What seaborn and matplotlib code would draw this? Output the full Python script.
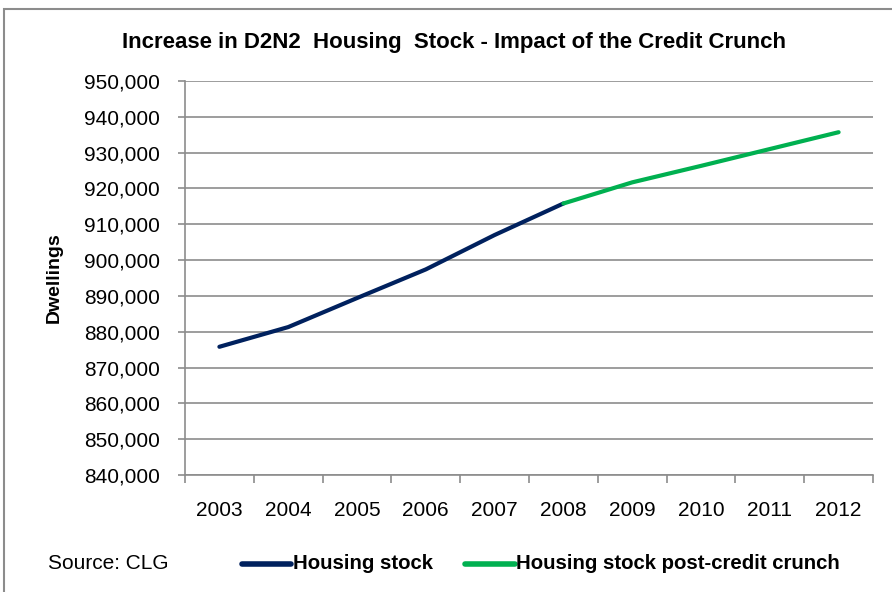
import pandas as pd
import matplotlib.pyplot as plt
import seaborn as sb
from matplotlib.ticker import FuncFormatter, MultipleLocator, FixedLocator
from matplotlib.lines import Line2D
from matplotlib.patches import Rectangle

# data
years_stock = [2003, 2004, 2005, 2006, 2007, 2008]
housing_stock = [875800, 881300, 889400, 897400, 907000, 915800]
years_post = [2008, 2009, 2010, 2011, 2012]
housing_post = [915800, 921700, 926300, 931000, 935700]

navy = "#00215E"
green = "#00B050"
grey = "#8c8c8c"

df = pd.concat([
    pd.DataFrame({"Year": years_stock, "Dwellings": housing_stock, "Series": "Housing stock"}),
    pd.DataFrame({"Year": years_post, "Dwellings": housing_post, "Series": "Housing stock post-credit crunch"}),
])

sb.set_style("white")
plt.rcParams['font.family'] = ['Liberation Sans', 'DejaVu Sans']
plt.rcParams['text.color'] = 'black'
plt.rcParams['xtick.color'] = grey
plt.rcParams['ytick.color'] = grey
plt.rcParams['xtick.labelcolor'] = 'black'
plt.rcParams['ytick.labelcolor'] = 'black'
plt.rcParams['axes.labelcolor'] = 'black'

fig = plt.figure(figsize=(8.92, 5.92), dpi=100)
ax = fig.add_axes([0.2074, 0.1976, 0.7713, 0.6656])

sb.lineplot(data=df, x="Year", y="Dwellings", hue="Series",
            palette={"Housing stock": navy, "Housing stock post-credit crunch": green},
            linewidth=3, legend=False, ax=ax)

ax.set_ylim(840000, 950000)
ax.set_xlim(2002.5, 2012.5)
ax.yaxis.set_major_locator(MultipleLocator(10000))
ax.yaxis.set_major_formatter(FuncFormatter(lambda v, p: f"{int(v):,}"))
ax.grid(axis="y", color=grey, linewidth=1.2)
ax.set_axisbelow(True)

years_all = list(range(2003, 2013))
ax.xaxis.set_major_locator(FixedLocator(years_all))
ax.set_xticklabels([str(y) for y in years_all])
ax.xaxis.set_minor_locator(FixedLocator([y + 0.5 for y in range(2002, 2013)]))
ax.tick_params(axis="x", which="major", length=0, pad=19, labelsize=15)
ax.tick_params(axis="x", which="minor", length=6, color=grey, width=1.2, direction="out", bottom=True)
ax.tick_params(axis="y", length=5, color=grey, width=1.2, direction="out", left=True, labelsize=15, pad=13)

for s in ["top", "right"]:
    ax.spines[s].set_visible(False)
for s in ["left", "bottom"]:
    ax.spines[s].set_color(grey)
    ax.spines[s].set_linewidth(1.2)

ax.set_xlabel("")
ax.set_ylabel("Dwellings", fontsize=14, fontweight="bold")
ax.yaxis.set_label_coords(-0.177, 0.5)

fig.text(0.509, 0.929, "Increase in D2N2  Housing  Stock - Impact of the Credit Crunch",
         ha="center", va="center", fontsize=16, fontweight="bold")

# legend row at the bottom
fig.text(0.054, 0.048, "Source: CLG", ha="left", va="center", fontsize=15)
fig.add_artist(Line2D([0.271, 0.326], [0.048, 0.048], color=navy, linewidth=4,
                      transform=fig.transFigure))
fig.text(0.328, 0.048, "Housing stock", ha="left", va="center", fontsize=14.7, fontweight="bold")
fig.add_artist(Line2D([0.521, 0.577], [0.048, 0.048], color=green, linewidth=4,
                      transform=fig.transFigure))
fig.text(0.579, 0.048, "Housing stock post-credit crunch", ha="left", va="center",
         fontsize=14.7, fontweight="bold")

# outer chart border
fig.add_artist(Rectangle((0.005, -0.01), 1.2, 0.994, transform=fig.transFigure,
                         fill=False, edgecolor=grey, linewidth=1.5))

plt.savefig("out.png", dpi=100)
